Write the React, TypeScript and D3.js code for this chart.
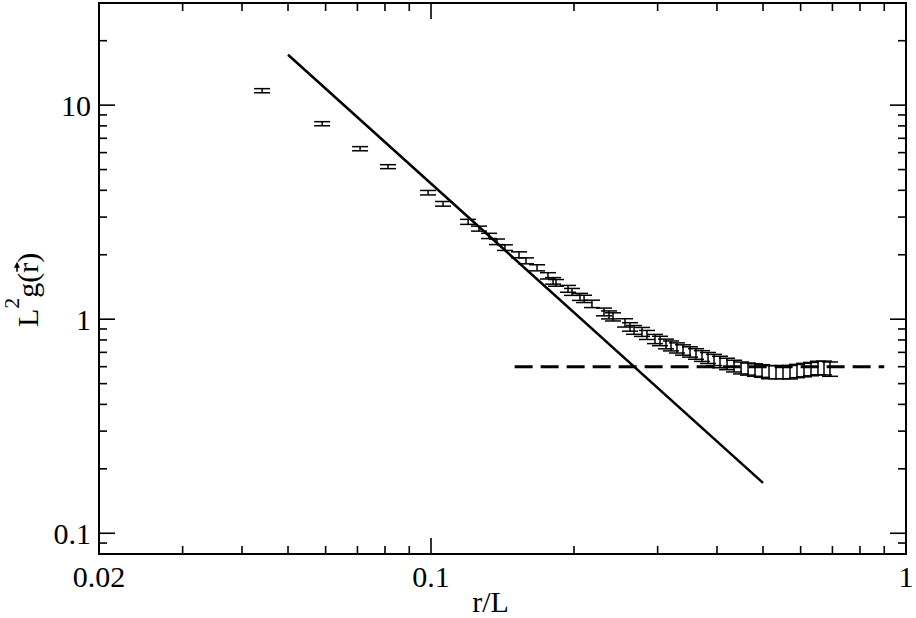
import React, { useEffect, useRef } from 'react';
import * as d3 from 'd3';

// r/L values of the measured points
const rValues = [
  0.0441, 0.0590, 0.0709, 0.0812, 0.0986, 0.1060, 0.1197, 0.1262, 0.1325, 0.1377,
  0.1431, 0.1532, 0.1585, 0.1672, 0.1763, 0.1807, 0.1833, 0.1943, 0.1981, 0.2059,
  0.2100, 0.2182, 0.2313, 0.2370, 0.2416, 0.2561, 0.2624, 0.2675, 0.2781, 0.2849,
  0.2962, 0.3035, 0.3124, 0.3201, 0.3295, 0.3393, 0.3510, 0.3613, 0.3720, 0.3830,
  0.3943, 0.4059, 0.4200, 0.4345, 0.4495, 0.4650, 0.4810, 0.4976, 0.5148, 0.5325,
  0.5509, 0.5699, 0.5895, 0.6099, 0.6309, 0.6527, 0.6720, 0.6918,
];
// L^2 g(r) values
const gValues = [
  11.68, 8.19, 6.26, 5.16, 3.90, 3.46, 2.85, 2.65, 2.45, 2.30,
  2.16, 2.00, 1.874, 1.739, 1.595, 1.511, 1.479, 1.387, 1.342, 1.272,
  1.245, 1.180, 1.082, 1.048, 1.026, 0.962, 0.921, 0.892, 0.873, 0.845,
  0.809, 0.792, 0.767, 0.751, 0.735, 0.719, 0.704, 0.689, 0.674, 0.660,
  0.646, 0.632, 0.619, 0.605, 0.593, 0.586, 0.580, 0.574, 0.567, 0.567,
  0.567, 0.567, 0.574, 0.580, 0.586, 0.593, 0.593, 0.586,
];
// error bar half sizes
const gErrors = [
  0.26, 0.18, 0.14, 0.11, 0.094, 0.087, 0.077, 0.071, 0.069, 0.069,
  0.065, 0.064, 0.060, 0.057, 0.054, 0.053, 0.053, 0.051, 0.050, 0.048,
  0.049, 0.047, 0.045, 0.045, 0.045, 0.043, 0.042, 0.042, 0.042, 0.041,
  0.040, 0.040, 0.040, 0.040, 0.040, 0.040, 0.039, 0.039, 0.039, 0.039,
  0.039, 0.039, 0.038, 0.038, 0.038, 0.038, 0.039, 0.039, 0.040, 0.040,
  0.040, 0.041, 0.041, 0.042, 0.042, 0.043, 0.044, 0.045,
];

const powerLawX = [0.05, 0.5];
const powerLawY = [17.2, 0.172];
const plateauX = [0.15, 0.9];
const plateauY = [0.6, 0.6];

const xMajorTicks = [0.02, 0.1, 1];
const xTickLabels = ['0.02', '0.1', '1'];
const yMajorTicks = [0.1, 1, 10];
const yTickLabels = ['0.1', '1', '10'];

const W = 916;
const H = 618;
const X0 = 99;
const X1 = 906;
const Y0 = 554;
const Y1 = 3;
const FONT = "'Liberation Serif', Tinos, 'Times New Roman', Times, 'Nimbus Roman', FreeSerif, serif";

export default function App() {
  const ref = useRef<SVGSVGElement>(null);

  useEffect(() => {
    const svg = d3.select(ref.current);
    svg.selectAll('*').remove();

    const x = d3.scaleLog().domain([0.02, 1]).range([X0, X1]);
    const y = d3.scaleLog().domain([0.08, 30]).range([Y0, Y1]);

    svg.append('rect').attr('width', W).attr('height', H).attr('fill', '#fff');

    // ticks
    const isMajor = (v: number, arr: number[]) => arr.some((m) => Math.abs(v / m - 1) < 1e-6);
    const g = svg.append('g').attr('stroke', '#000').attr('stroke-width', 1.6);
    x.ticks().forEach((t) => {
      const len = isMajor(t, xMajorTicks) ? 16 : 8;
      const px = x(t);
      g.append('line').attr('x1', px).attr('x2', px).attr('y1', Y0).attr('y2', Y0 - len);
      g.append('line').attr('x1', px).attr('x2', px).attr('y1', Y1).attr('y2', Y1 + len);
    });
    y.ticks().forEach((t) => {
      const len = isMajor(t, yMajorTicks) ? 16 : 8;
      const py = y(t);
      g.append('line').attr('x1', X0).attr('x2', X0 + len).attr('y1', py).attr('y2', py);
      g.append('line').attr('x1', X1).attr('x2', X1 - len).attr('y1', py).attr('y2', py);
    });

    // frame
    svg.append('rect')
      .attr('x', X0).attr('y', Y1).attr('width', X1 - X0).attr('height', Y0 - Y1)
      .attr('fill', 'none').attr('stroke', '#000').attr('stroke-width', 2);

    // tick labels
    xMajorTicks.forEach((t, i) => {
      svg.append('text')
        .attr('x', x(t)).attr('y', 587)
        .attr('text-anchor', 'middle')
        .style('font-family', FONT).style('font-size', '30px')
        .text(xTickLabels[i]);
    });
    yMajorTicks.forEach((t, i) => {
      svg.append('text')
        .attr('x', 91).attr('y', y(t) + 11)
        .attr('text-anchor', 'end')
        .style('font-family', FONT).style('font-size', '30px')
        .text(yTickLabels[i]);
    });

    // axis titles
    svg.append('text')
      .attr('x', (X0 + X1) / 2 - 12).attr('y', 612)
      .attr('text-anchor', 'middle')
      .style('font-family', FONT).style('font-size', '30px')
      .text('r/L');

    const yl = svg.append('g').attr('transform', 'translate(38,0) rotate(-90)');
    const yt = yl.append('text')
      .attr('x', -327).attr('y', 0)
      .style('font-family', FONT).style('font-size', '30px');
    yt.append('tspan').text('L');
    yt.append('tspan').attr('dy', -19).style('font-size', '22px').text('2');
    yt.append('tspan').attr('dy', 19).text('g(r)');
    const node = yt.node() as SVGTextElement;
    try {
      const ext = node.getExtentOfChar(4);
      const ax0 = ext.x + 1;
      const ax1 = ext.x + ext.width + 1;
      const ay = -21;
      yl.append('line').attr('x1', ax0).attr('x2', ax1 - 3).attr('y1', ay).attr('y2', ay)
        .attr('stroke', '#000').attr('stroke-width', 1.6);
      yl.append('path')
        .attr('d', `M${ax1},${ay} L${ax1 - 6},${ay - 3} L${ax1 - 6},${ay + 3} Z`)
        .attr('fill', '#000');
    } catch (e) {
      // ignore
    }

    // reference lines
    const lineGen = d3.line<[number, number]>().x((d) => x(d[0])).y((d) => y(d[1]));
    svg.append('path')
      .attr('d', lineGen(powerLawX.map((v, i) => [v, powerLawY[i]] as [number, number])))
      .attr('fill', 'none').attr('stroke', '#000').attr('stroke-width', 2.5);
    svg.append('path')
      .attr('d', lineGen(plateauX.map((v, i) => [v, plateauY[i]] as [number, number])))
      .attr('fill', 'none').attr('stroke', '#000').attr('stroke-width', 3)
      .attr('stroke-dasharray', '18,8');

    // error bars
    const eb = svg.append('g').attr('stroke', '#000').attr('stroke-width', 1.5).attr('fill', 'none');
    rValues.forEach((r, i) => {
      const px = x(r);
      const yt2 = y(gValues[i] + gErrors[i]);
      const yb = y(gValues[i] - gErrors[i]);
      eb.append('line').attr('x1', px).attr('x2', px).attr('y1', yt2).attr('y2', yb);
      eb.append('line').attr('x1', px - 8).attr('x2', px + 8).attr('y1', yt2).attr('y2', yt2);
      eb.append('line').attr('x1', px - 8).attr('x2', px + 8).attr('y1', yb).attr('y2', yb);
    });
  }, []);

  return (
    <svg
      ref={ref}
      width={W}
      height={H}
      style={{ position: 'absolute', left: 0, top: 0, background: '#fff' }}
    />
  );
}
